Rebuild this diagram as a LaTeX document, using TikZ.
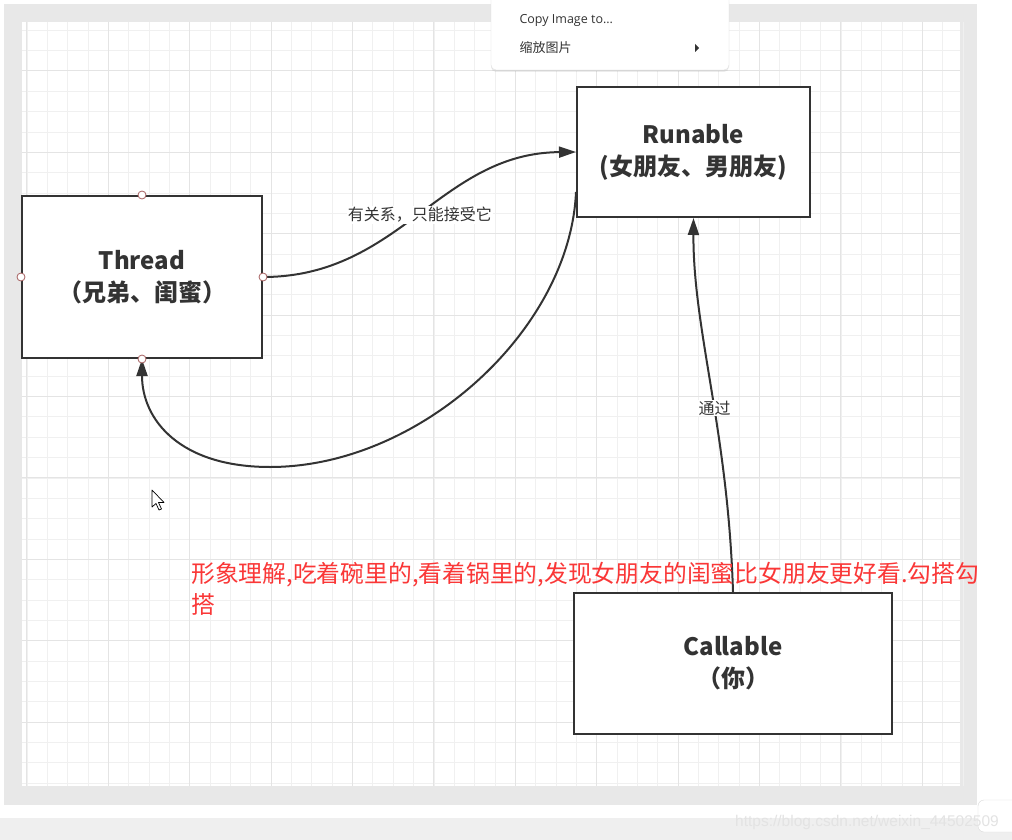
\documentclass[tikz,border=0pt]{standalone}
\usepackage{fontspec}
\setmainfont{Noto Sans CJK SC}
\newfontfamily\menufont{Open Sans}
\newfontfamily\markfont{Liberation Sans}
\usetikzlibrary{arrows.meta, shadows}

\definecolor{ink}{RGB}{51,51,51}
\definecolor{framegray}{RGB}{232,232,232}
\definecolor{minorline}{RGB}{240,240,240}
\definecolor{majorline}{RGB}{228,228,228}
\definecolor{notered}{RGB}{250,55,55}
\definecolor{portred}{RGB}{165,95,95}
\definecolor{bargray}{RGB}{239,239,239}

\begin{document}
\begin{tikzpicture}[x=1pt,y=1pt,yscale=-1,xscale=1,
  box/.style={draw=ink,line width=2pt,fill=white,align=center,text=ink,font=\bfseries\fontsize{24}{32}\selectfont},
  link/.style={draw=ink,line width=2pt,-{Triangle[length=17pt,width=11pt]}},
  tag/.style={fill=white,text=ink,font=\fontsize{16}{18}\selectfont,inner sep=1pt},
  portdot/.style={circle,draw=portred,fill=white,line width=0.8pt,inner sep=0pt,minimum size=8pt}]
\useasboundingbox (0,0) rectangle (1012,840);

%Background: frame and grid
\fill[white] (0,0) rectangle (1012,840);
\fill[framegray] (4,4) rectangle (977,805);
\fill[white] (22,22) rectangle (960,786);
\foreach \i in {0,...,46} \draw[minorline,line width=0.8pt] ({26.9+20.35*\i},22) -- ({26.9+20.35*\i},786);
\foreach \j in {0,...,37} \draw[minorline,line width=0.8pt] (22,{30.2+20.35*\j}) -- (960,{30.2+20.35*\j});
\foreach \i in {0,...,11} \draw[majorline,line width=0.9pt] ({26.9+81.4*\i},22) -- ({26.9+81.4*\i},786);
\foreach \j in {0,...,8} \draw[majorline,line width=0.9pt] (22,{70.9+81.4*\j}) -- (960,{70.9+81.4*\j});
\fill[bargray] (0,818) rectangle (1012,840);

%Shape: Rectangle
\node[box,minimum width=240pt,minimum height=162pt] (thread) at (142,277) {Thread\\（兄弟、闺蜜）};
%Shape: Rectangle
\node[box,minimum width=233pt,minimum height=130pt] (runable) at (693.5,152) {Runable\\(女朋友、男朋友)};
%Shape: Rectangle
\node[box,minimum width=318pt,minimum height=141pt] (callable) at (733,663.5) {Callable\\（你）};

%Curve Lines
\draw[link] (thread.east) .. controls (400,277) and (440,153) .. (runable.west) node[tag,pos=0.5] (relation) {有关系，只能接受它};
%Curve Lines
\draw[link] ([yshift=-26pt]runable.south west) .. controls (570,330) and (420,467) .. (270,467) .. controls (180,467) and (142,420) .. (thread.south);
%Curve Lines
\draw[link] (callable.north) .. controls (728,430) and (693,330) .. (runable.south) node[tag,pos=0.44] (via) {通过};

%Ports on Thread
\node[portdot] (pn) at (thread.north) {};
\node[portdot] (pw) at (thread.west) {};
\node[portdot] (pe) at (thread.east) {};
\node[portdot] (ps) at (thread.south) {};

% Text Node
\node[anchor=north west,inner sep=0pt,align=left,text=notered,font=\fontsize{23.8}{31}\selectfont] (remark) at (191,562) {形象理解,吃着碗里的,看着锅里的,发现女朋友的闺蜜比女朋友更好看.勾搭勾\\搭};

%Mouse pointer
\draw[black,fill=white,line width=0.7pt,line join=round] (152,490) -- (152,507) -- (156,503.5) -- (159,510) -- (161.5,509) -- (158.5,502.5) -- (164,502.5) -- cycle;

%Context menu
\node[draw=gray!25,fill=white,rounded corners=5pt,minimum width=238pt,minimum height=75pt,drop shadow={opacity=0.15,shadow xshift=0pt,shadow yshift=-2pt}] (menu) at (610,32.5) {};
\node[anchor=west,text=ink,font=\menufont\fontsize{12.5}{15}\selectfont] (copyitem) at (516,20) {Copy Image to...};
\node[anchor=west,text=ink,font=\fontsize{13}{15}\selectfont] (zoomitem) at (516,48) {缩放图片};
\fill[ink] (695,44) -- (699,48) -- (695,52) -- cycle;

%Corner widget and watermark
\draw[gray!30,fill=white,rounded corners=6pt] (978,800) rectangle (1030,832);
\node[text=gray!22,font=\markfont\fontsize{15.5}{17}\selectfont] (mark) at (867,822) {https://blog.csdn.net/weixin\_44502509};
\end{tikzpicture}
\end{document}
